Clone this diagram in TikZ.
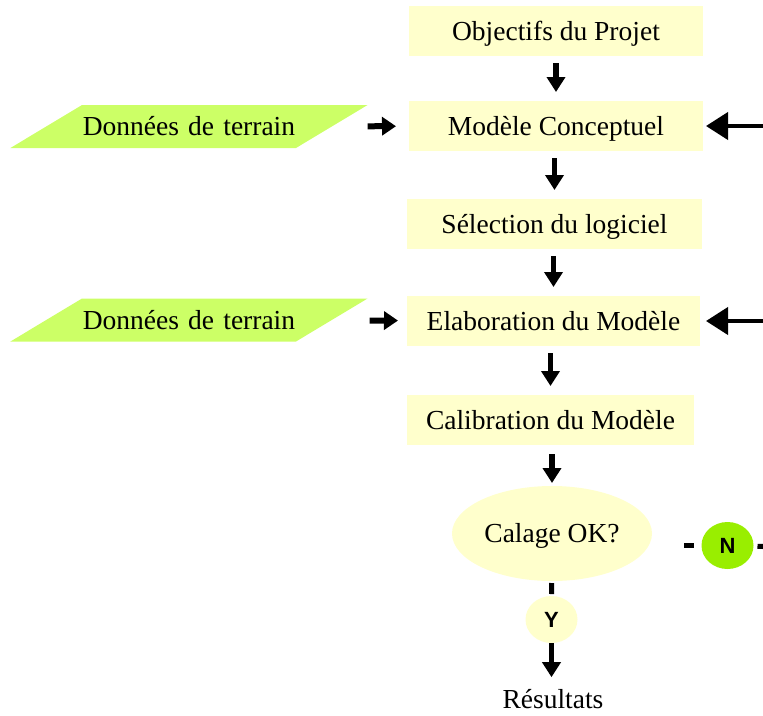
\documentclass[tikz,border=0pt]{standalone}
\usepackage{fontspec}
\setmainfont{Liberation Serif}
\newfontfamily\arialfont{Liberation Sans}
\usepackage{tikz}
\usetikzlibrary{shapes.geometric}
\usetikzlibrary{arrows.meta}
\definecolor{jaune}{HTML}{FFFFCC}
\definecolor{vert}{HTML}{CCFF66}
\definecolor{vertvif}{HTML}{99EE00}
\tikzset{
	texte/.style={font=\fontsize{27.5}{33}\selectfont, text height=18.2pt, text depth=0pt},
	etape/.style={texte, fill=jaune, minimum height=50pt, inner sep=0pt, outer sep=0pt},
	donnees/.style={texte, trapezium, trapezium left angle=31, trapezium right angle=149,
		fill=vert, text width=214pt, align=center, inner xsep=0pt, inner ysep=12.4pt,
		outer sep=0pt},
	test/.style={texte, ellipse, fill=jaune, minimum width=200pt, minimum height=95pt,
		inner sep=0pt, outer sep=0pt},
	reponse/.style={ellipse, minimum width=52pt, minimum height=47pt, inner sep=0pt,
		outer sep=0pt, font=\arialfont\bfseries\fontsize{22}{26}\selectfont,
		text height=15.8pt, text depth=0pt},
	fleche/.style={draw=black, line width=5.5pt, -{Triangle[length=15pt,width=18pt]}},
	entree/.style={draw=black, line width=6pt, -{Triangle[length=14pt,width=18pt]}},
	retour/.style={draw=black, line width=4pt, -{Triangle[length=22pt,width=27pt]}},
	tiret/.style={draw=black, line width=5pt},
}

\begin{document}
\begin{tikzpicture}[x=1pt, y=-1pt]
	\useasboundingbox (0,0) rectangle (763,715);
	% etapes
	\node[etape, minimum width=294pt] (obj) at (556,31) {Objectifs du Projet};
	\node[etape, minimum width=294pt] (mc) at (556,126) {Mod\`ele Conceptuel};
	\node[etape, minimum width=295pt] (sel) at (554.5,224) {S\'election du logiciel};
	\node[etape, minimum width=293pt] (elab) at (553.5,321) {Elaboration du Mod\`ele};
	\node[etape, minimum width=287pt] (calib) at (550.5,420) {Calibration du Mod\`ele};
	\node[test] (calage) at (552,533.5) {Calage OK?};
	\node[reponse, fill=jaune] (y) at (551.5,619.5) {Y};
	\node[reponse, fill=vertvif] (n) at (727.5,545.5) {N};
	\node[anchor=base, inner sep=0pt, font=\fontsize{27.5}{33}\selectfont] (res) at (553,708) {R\'esultats};
	% donnees
	\node[donnees] (d1) at (189,126.5) {Donn\'ees de terrain};
	\node[donnees] (d2) at (189,320) {Donn\'ees de terrain};
	\coordinate (r1) at (763,126);
	\coordinate (r2) at (763,321);
	\coordinate (r3) at (763,546.5);
	% fleches
	\draw[fleche, shorten <=7pt, shorten >=9pt] (obj.south -| mc.north)--(mc.north);
	\draw[fleche, shorten <=7pt, shorten >=9pt] (mc.south -| sel.north)--(sel.north);
	\draw[fleche, shorten <=7pt, shorten >=9pt] (sel.south -| elab.north)--(elab.north);
	\draw[fleche, shorten <=7pt, shorten >=9pt] (elab.south -| calib.north)--(calib.north);
	\draw[fleche, shorten <=9pt, shorten >=3pt] (calib.south -| calage.north)--(calage.north);
	\draw[fleche, shorten >=11.5pt] (y.south)--(y.south |- res.north);
	\draw[entree, shorten <=35.5pt, shorten >=13pt] (d1)--(mc);
	\draw[entree, shorten <=38.5pt, shorten >=9pt] (d2)--(elab);
	\draw[retour, shorten >=3pt] (r1)--(mc);
	\draw[retour, shorten >=6pt] (r2)--(elab);
	\draw[tiret, shorten <=2pt, shorten >=2pt] (calage)--(y);
	\draw[tiret, shorten <=32pt, shorten >=8pt] (calage.east |- n)--(n);
	\draw[tiret, shorten <=4pt] (n)--(r3);
\end{tikzpicture}
\end{document}
